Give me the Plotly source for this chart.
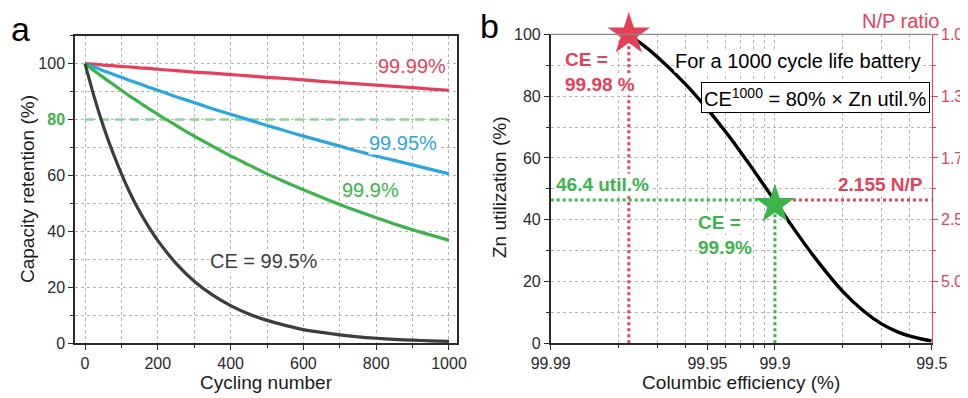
import plotly.graph_objects as go

# ---------------- Panel a data ----------------
cycles = [0, 25, 50, 75, 100, 125, 150, 175, 200, 250, 300, 350, 400, 450, 500,
          550, 600, 650, 700, 750, 800, 850, 900, 950, 1000]
ret_9999 = [100, 99.8, 99.5, 99.3, 99.0, 98.8, 98.5, 98.3, 98.0, 97.5, 97.0, 96.6, 96.1,
            95.6, 95.1, 94.7, 94.2, 93.7, 93.2, 92.8, 92.3, 91.9, 91.4, 90.9, 90.5]
ret_9995 = [100, 98.8, 97.5, 96.3, 95.1, 93.9, 92.8, 91.6, 90.5, 88.2, 86.1, 83.9, 81.9,
            79.9, 77.9, 76.0, 74.1, 72.3, 70.5, 68.7, 67.0, 65.4, 63.8, 62.2, 60.6]
ret_999 = [100, 97.5, 95.1, 92.8, 90.5, 88.2, 86.1, 83.9, 81.9, 77.9, 74.1, 70.5, 67.0,
           63.8, 60.6, 57.7, 54.9, 52.2, 49.6, 47.2, 44.9, 42.7, 40.6, 38.7, 36.8]
ret_995 = [100, 88.2, 77.8, 68.7, 60.6, 53.4, 47.1, 41.6, 36.7, 28.6, 22.2, 17.3, 13.5,
           10.5, 8.2, 6.4, 4.9, 3.9, 3.0, 2.3, 1.8, 1.4, 1.1, 0.9, 0.7]
threshold = 80
a_xticks = [0, 200, 400, 600, 800, 1000]
a_yticks = [0, 20, 40, 60, 80, 100]

# ---------------- Panel b data ----------------
ce_curve = [99.978, 99.975, 99.97, 99.96, 99.95, 99.94, 99.93, 99.92, 99.91, 99.90,
            99.88, 99.85, 99.80, 99.75, 99.70, 99.65, 99.60, 99.55, 99.50]
util_curve = [100.0, 97.3, 92.6, 83.8, 75.8, 68.6, 62.1, 56.2, 50.8, 46.0,
              37.6, 27.9, 16.9, 10.3, 6.2, 3.8, 2.3, 1.4, 0.8]
ce_ticks = [99.99, 99.95, 99.9, 99.5]
ce_minor = [99.98, 99.97, 99.96, 99.94, 99.93, 99.92, 99.91, 99.8, 99.7, 99.6]
util_ticks = [0, 20, 40, 60, 80, 100]
np_tick_pos = [100, 80, 60, 40, 20]
np_tick_labels = ["1.0", "1.3", "1.7", "2.5", "5.0"]
ce_red, util_red = 99.9777, 100
ce_green, util_green = 99.9, 46.4

RED = "#E5405A"
BLUE = "#2AA7E1"
GREEN = "#3BB54A"
LGREEN = "#8ED396"
DARK = "#3D3D3D"
FONT = "Liberation Sans, Arial, sans-serif"
GRID = "#B5B5B5"

OFF = 8  # page body margin
W, H = 968 - OFF, 398 - OFF
def px(x):
    return (x - OFF) / W
def py(y):
    return 1 - (y - OFF) / H

def d(ce):
    return round(100 - ce, 4)

fig = go.Figure()

# panel a traces
fig.add_trace(go.Scatter(x=[cycles[0], cycles[-1]], y=[threshold, threshold], mode="lines",
                         line=dict(color=LGREEN, width=2.5, dash="9px,6px"),
                         xaxis="x", yaxis="y", showlegend=False, hoverinfo="skip"))
for ys, col in [(ret_9999, RED), (ret_9995, BLUE), (ret_999, GREEN), (ret_995, DARK)]:
    fig.add_trace(go.Scatter(x=cycles, y=ys, mode="lines", line=dict(color=col, width=3.2, shape="spline", smoothing=0.6),
                             xaxis="x", yaxis="y", showlegend=False))

# panel b traces
fig.add_trace(go.Scatter(x=[d(c) for c in ce_curve], y=util_curve, mode="lines",
                         line=dict(color="black", width=3.4, shape="spline", smoothing=0.6),
                         xaxis="x2", yaxis="y2", showlegend=False))
dotw = 3
fig.add_trace(go.Scatter(x=[d(ce_red), d(ce_red)], y=[0, util_red], mode="lines",
                         line=dict(color=RED, width=dotw, dash="dot"), xaxis="x2", yaxis="y2", showlegend=False))
fig.add_trace(go.Scatter(x=[d(ce_green), d(ce_ticks[-1])], y=[util_green, util_green], mode="lines",
                         line=dict(color=RED, width=dotw, dash="dot"), xaxis="x2", yaxis="y2", showlegend=False))
fig.add_trace(go.Scatter(x=[d(ce_ticks[0]), d(ce_green)], y=[util_green, util_green], mode="lines",
                         line=dict(color=GREEN, width=dotw, dash="dot"), xaxis="x2", yaxis="y2", showlegend=False))
fig.add_trace(go.Scatter(x=[d(ce_green), d(ce_green)], y=[0, util_green], mode="lines",
                         line=dict(color=GREEN, width=dotw, dash="dot"), xaxis="x2", yaxis="y2", showlegend=False))
fig.add_trace(go.Scatter(x=[d(ce_red)], y=[util_red], mode="markers",
                         marker=dict(symbol="star", size=32, color=RED, line=dict(width=0)),
                         xaxis="x2", yaxis="y2", showlegend=False, cliponaxis=False))
fig.add_trace(go.Scatter(x=[d(ce_green)], y=[util_green - 1.5], mode="markers",
                         marker=dict(symbol="star", size=30, color=GREEN, line=dict(width=0)),
                         xaxis="x2", yaxis="y2", showlegend=False, cliponaxis=False))
# invisible trace for right axis
fig.add_trace(go.Scatter(x=[d(ce_ticks[0])], y=[0], mode="markers", marker=dict(opacity=0),
                         xaxis="x2", yaxis="y3", showlegend=False, hoverinfo="skip"))

tickfont = dict(family=FONT, size=16, color="#2a2a2a")
titlefont = dict(family=FONT, size=19, color="#1a1a1a")
common = dict(showline=True, linecolor="#2a2a2a", linewidth=1.5, ticks="outside", ticklen=5,
              tickcolor="#2a2a2a", showgrid=True, gridcolor=GRID, griddash="dot", gridwidth=1,
              zeroline=False, automargin=False, tickfont=tickfont)

a_ytext = [str(v) if v != threshold else f"<b><span style='color:{GREEN}'>{v}</span></b>" for v in a_yticks]

fig.update_layout(
    width=W, height=H, margin=dict(l=0, r=0, t=0, b=0),
    paper_bgcolor="white", plot_bgcolor="white", template="none",
    font=dict(family=FONT),
    xaxis=dict(domain=[px(75), px(457)], range=[-27.5, 1022], tickvals=a_xticks, mirror=True,
               minor=dict(dtick=100, tick0=0, ticks="outside", ticklen=3, tickcolor="#2a2a2a",
                          showgrid=True, gridcolor=GRID, griddash="dot"),
               title=dict(text="Cycling number", font=titlefont, standoff=4), anchor="y", **common),
    yaxis=dict(domain=[py(343.3), py(35.7)], range=[0, 110], tickvals=a_yticks, ticktext=a_ytext,
               mirror=True,
               minor=dict(dtick=10, tick0=0, ticks="outside", ticklen=3, tickcolor="#2a2a2a",
                          showgrid=True, gridcolor=GRID, griddash="dot"),
               anchor="x", **common),
    xaxis2=dict(domain=[px(550.7), px(931.7)], type="log", range=[-2, -0.30103],
                tickvals=[d(c) for c in ce_ticks], ticktext=[str(c) for c in ce_ticks],
                minor=dict(tickvals=[d(c) for c in ce_minor], ticks="outside", ticklen=3, tickcolor="#2a2a2a",
                           showgrid=True, gridcolor=GRID, griddash="dot"),
                title=dict(text="Columbic efficiency (%)", font=titlefont, standoff=4), anchor="y2", **common),
    yaxis2=dict(domain=[py(343.3), py(34.3)], range=[0, 100], tickvals=util_ticks,
                minor=dict(dtick=10, tick0=0, ticks="outside", ticklen=3, tickcolor="#2a2a2a",
                           showgrid=True, gridcolor=GRID, griddash="dot"),
                anchor="x2", **common),
    yaxis3=dict(domain=[py(343.3), py(34.3)], range=[0, 100], overlaying="y2", side="right", anchor="x2",
                tickvals=np_tick_pos, ticktext=np_tick_labels, showline=True, linecolor=RED, linewidth=1.2,
                ticks="outside", ticklen=5, tickcolor=RED, showgrid=False, zeroline=False, automargin=False,
                minor=dict(tickvals=[90, 70, 50, 30, 10], ticks="outside", ticklen=3, tickcolor=RED),
                tickfont=dict(family=FONT, size=16, color=RED)),
)

# top border of panel b
fig.add_shape(type="line", xref="x2 domain", yref="y2 domain", x0=0, x1=1, y0=1, y1=1,
              line=dict(color="#8a8a8a", width=1.2), layer="above")

def ann(text, x, y, color, size=20, bold=False, bg="white", xanchor="center", **kw):
    t = f"<b>{text}</b>" if bold else text
    fig.add_annotation(text=t, x=px(x), y=py(y), xref="paper", yref="paper", showarrow=False,
                       font=dict(family=FONT, size=size, color=color), bgcolor=bg,
                       xanchor=xanchor, yanchor="middle", borderpad=0, **kw)

# y-axis titles
ann("Capacity retention (%)", 27.5, 189.5, "#1a1a1a", size=19, bg="rgba(0,0,0,0)", textangle=-90)
ann("Zn utilization (%)", 500, 187, "#1a1a1a", size=19, bg="rgba(0,0,0,0)", textangle=-90)

# panel letters
ann("a", 20, 28.5, "black", size=34, bg="rgba(0,0,0,0)", height=34)
ann("b", 489, 26, "black", size=34, bg="rgba(0,0,0,0)", height=34)

# panel a labels
ann("99.99%", 411.7, 65.5, RED)
ann("99.95%", 403, 142.5, BLUE)
ann("99.9%", 370, 190, GREEN)
ann("CE = 99.5%", 264, 261, DARK)

# panel b labels
ann("N/P ratio", 900, 21.5, RED, bg="rgba(0,0,0,0)")
ann("For a 1000 cycle life battery", 797.5, 61, "black")
fig.add_annotation(text="CE<sup>1000</sup> = 80% × Zn util.%", x=px(815), y=py(97.5), xref="paper", yref="paper",
                   showarrow=False, font=dict(family=FONT, size=20, color="black"), bgcolor="white",
                   bordercolor="black", borderwidth=1, borderpad=2, xanchor="center", yanchor="middle")
ann("CE =", 564, 60, RED, size=19, bold=True, xanchor="left")
ann("99.98 %", 564, 84.5, RED, size=19, bold=True, xanchor="left")
ann("46.4 util.%", 555, 185, GREEN, size=19, bold=True, xanchor="left")
ann("2.155 N/P", 880, 185, RED, size=19, bold=True)
ann("CE =", 697, 222, GREEN, size=19, bold=True, xanchor="left")
ann("99.9%", 697, 247, GREEN, size=19, bold=True, xanchor="left")

fig.write_html("out.html")
